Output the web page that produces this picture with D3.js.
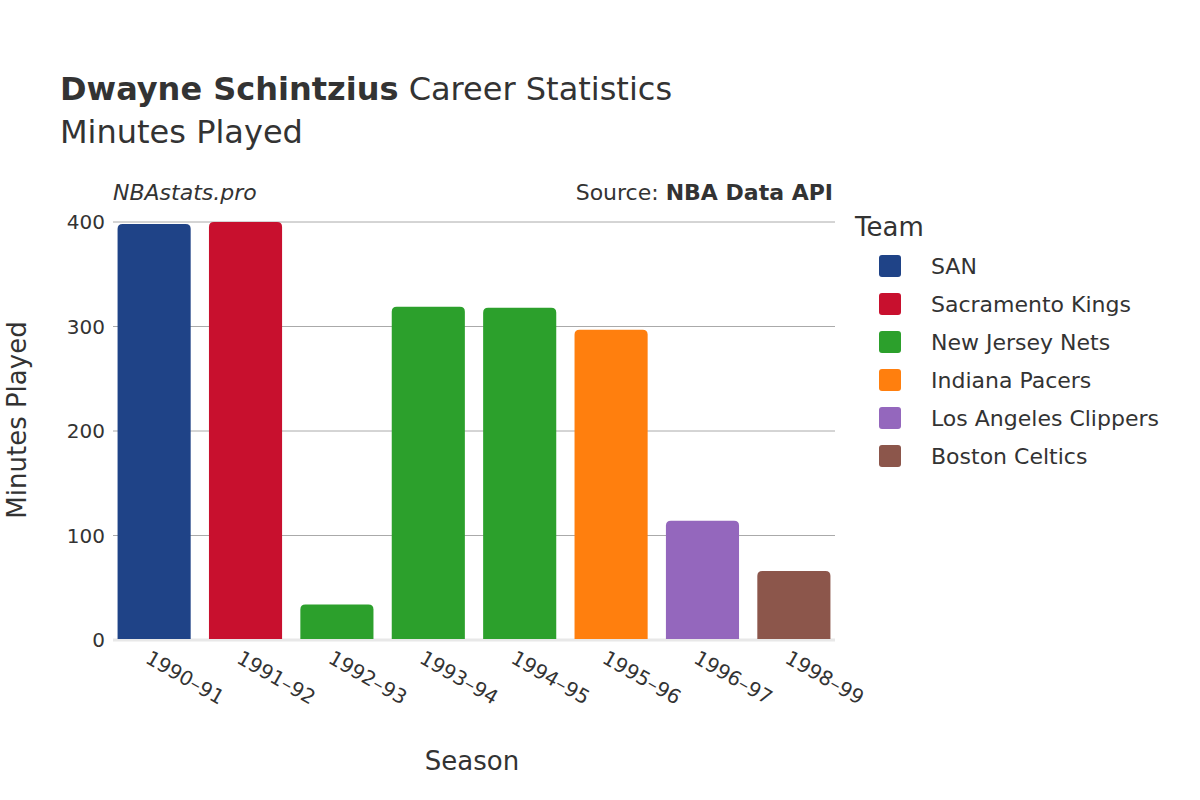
<!DOCTYPE html>
<html>
<head>
<meta charset="utf-8">
<script src="https://cdn.jsdelivr.net/npm/d3@7"></script>
<style>
  body { margin: 0; background: #fff; }
  text { font-family: "DejaVu Sans", sans-serif; fill: #333; }
</style>
</head>
<body>
<script>
const seasons = ['1990–91', '1991–92', '1992–93', '1993–94', '1994–95', '1995–96', '1996–97', '1998–99'];
const minutes = [398, 400, 34, 319, 318, 297, 114, 66];
const teams = ['SAN', 'Sacramento Kings', 'New Jersey Nets', 'New Jersey Nets', 'New Jersey Nets', 'Indiana Pacers', 'Los Angeles Clippers', 'Boston Celtics'];
const legendTeams = ['SAN', 'Sacramento Kings', 'New Jersey Nets', 'Indiana Pacers', 'Los Angeles Clippers', 'Boston Celtics'];
const teamColors = ['#1f4387', '#c8102e', '#2ca02c', '#ff7f0e', '#9467bd', '#8c564b'];
const yTicks = [0, 100, 200, 300, 400];

const width = 1200, height = 800;
const margin = { left: 113, right: 365, top: 222, bottom: 160 };

const svg = d3.select('body').append('svg')
  .attr('width', width)
  .attr('height', height);

const x = d3.scaleBand()
  .domain(seasons)
  .range([margin.left, width - margin.right])
  .paddingInner(0.2)
  .paddingOuter(0.05);

const y = d3.scaleLinear()
  .domain([0, 400])
  .range([height - margin.bottom, margin.top]);

const color = d3.scaleOrdinal().domain(legendTeams).range(teamColors);

// grid
svg.append('g')
  .selectAll('line')
  .data(yTicks)
  .enter()
  .append('line')
  .attr('x1', margin.left)
  .attr('x2', width - margin.right)
  .attr('y1', d => y(d))
  .attr('y2', d => y(d))
  .attr('stroke', d => d === 0 ? '#e8e8e8' : '#aaa')
  .attr('stroke-width', d => d === 0 ? 3 : 1);

// bars with rounded tops
const r = 5;
svg.append('g')
  .selectAll('path')
  .data(seasons)
  .enter()
  .append('path')
  .attr('fill', (d, i) => color(teams[i]))
  .attr('d', (d, i) => {
    const x0 = x(d), w = x.bandwidth(), y0 = y(0) - 1, y1 = y(minutes[i]);
    return `M${x0},${y0}V${y1 + r}Q${x0},${y1} ${x0 + r},${y1}H${x0 + w - r}Q${x0 + w},${y1} ${x0 + w},${y1 + r}V${y0}Z`;
  });

// y tick labels
svg.append('g')
  .selectAll('text')
  .data(yTicks)
  .enter()
  .append('text')
  .attr('x', margin.left - 8)
  .attr('y', d => y(d))
  .attr('dy', '0.35em')
  .attr('text-anchor', 'end')
  .style('font-size', '20px')
  .text(d => d);

// x tick labels
svg.append('g')
  .selectAll('text')
  .data(seasons)
  .enter()
  .append('text')
  .attr('transform', d => `translate(${x(d) + x.bandwidth() / 2 - 10},${height - margin.bottom + 22}) rotate(30)`)
  .style('font-size', '20px')
  .text(d => d);

// titles
const title = svg.append('text').attr('x', 60).attr('y', 100).style('font-size', '32px');
title.append('tspan').style('font-weight', 'bold').text('Dwayne Schintzius');
title.append('tspan').text(' Career Statistics');
svg.append('text').attr('x', 60).attr('y', 143).style('font-size', '32px').text('Minutes Played');

svg.append('text').attr('x', 113).attr('y', 200).style('font-size', '22px').style('font-style', 'italic').text('NBAstats.pro');
const src = svg.append('text').attr('x', 833).attr('y', 200).attr('text-anchor', 'end').style('font-size', '22px');
src.append('tspan').text('Source: ');
src.append('tspan').style('font-weight', 'bold').text('NBA Data API');

svg.append('text').attr('x', 472).attr('y', 770).attr('text-anchor', 'middle').style('font-size', '26px').text('Season');
svg.append('text').attr('transform', 'translate(26,420) rotate(-90)').attr('text-anchor', 'middle').style('font-size', '26px').text('Minutes Played');

// legend
svg.append('text').attr('x', 855).attr('y', 236).style('font-size', '26px').text('Team');
const lg = svg.append('g').selectAll('g')
  .data(legendTeams)
  .enter()
  .append('g')
  .attr('transform', (d, i) => `translate(879,${266 + i * 38})`);
lg.append('rect').attr('x', 0).attr('y', -11).attr('width', 22).attr('height', 22).attr('rx', 3).attr('fill', d => color(d));
lg.append('text').attr('x', 52).attr('dy', '0.35em').style('font-size', '22px').text(d => d);
</script>
</body>
</html>
